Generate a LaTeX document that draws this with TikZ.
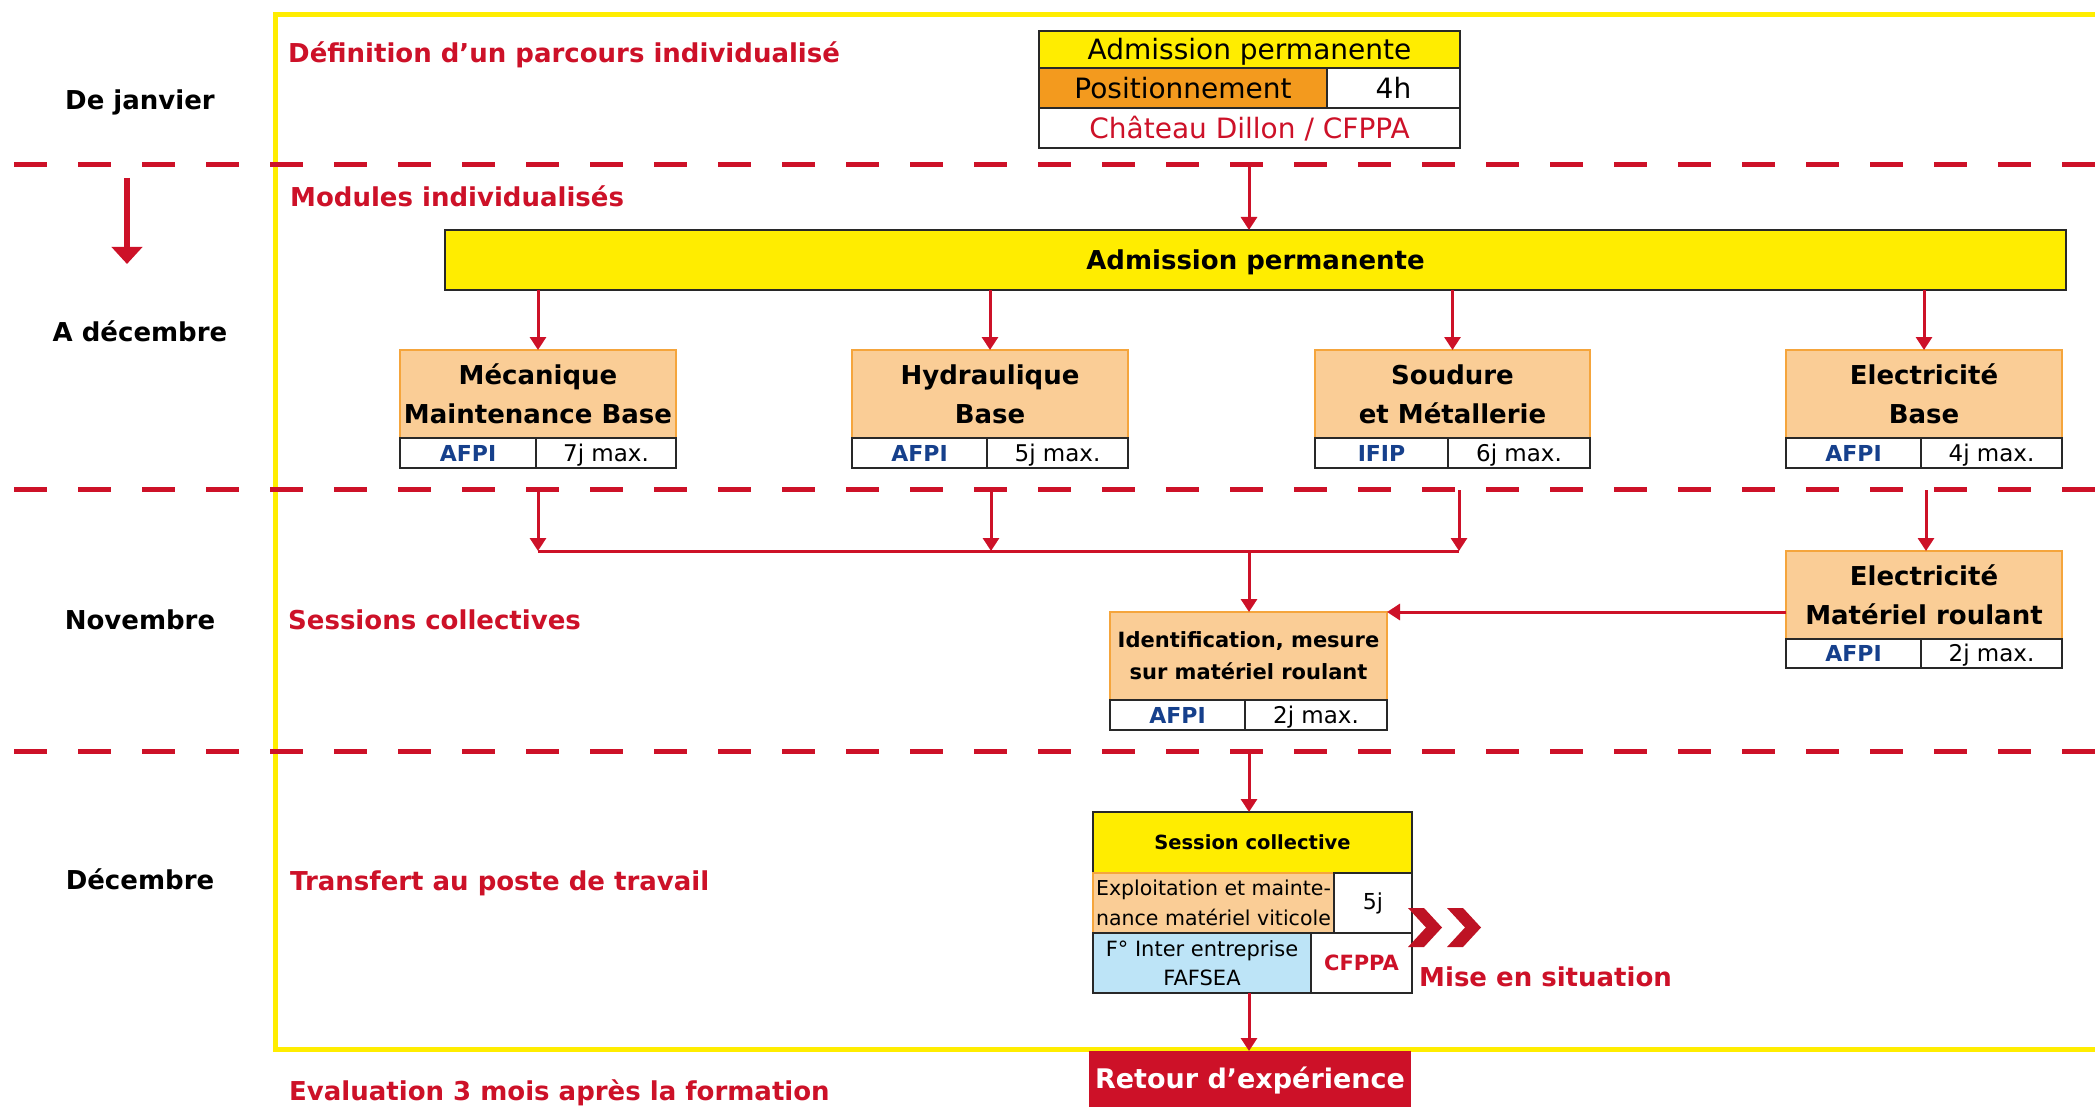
\documentclass[tikz,border=0pt]{standalone}
\usepackage{fontspec}
\setmainfont{DejaVu Sans}
\usetikzlibrary{arrows.meta}
\definecolor{myred}{RGB}{205,17,40}
\definecolor{myyellow}{RGB}{255,237,0}
\definecolor{myorange}{RGB}{243,154,30}
\definecolor{lightor}{RGB}{250,205,150}
\definecolor{orline}{RGB}{245,165,60}
\definecolor{lightblue}{RGB}{189,228,247}
\definecolor{myblue}{RGB}{22,64,140}
\definecolor{darkred}{RGB}{190,18,36}
\definecolor{boxline}{RGB}{40,40,40}
\begin{document}
\begin{tikzpicture}[x=1pt,y=-1pt,
  arr/.style={draw=myred, line width=3pt, -{Triangle[width=16pt,length=13pt]}},
  rect/.style={inner sep=0pt, outer sep=0pt, align=center},
  cellk/.style={rect, draw=boxline, line width=1.5pt},
  cello/.style={rect, draw=orline, line width=1.5pt, fill=lightor},
  lab/.style={font=\fontsize{26}{31}\selectfont\bfseries, text height=19pt, text depth=0pt, inner sep=0pt},
  ttl/.style={font=\fontsize{26}{31}\selectfont\bfseries, text=myred, anchor=west, inner sep=0pt, text height=19pt, text depth=0pt},
  modt/.style={font=\fontsize{26}{39}\selectfont\bfseries},
  orgz/.style={font=\fontsize{22}{26}\selectfont\bfseries, text=myblue, text height=16pt, text depth=0pt},
  dur/.style={font=\fontsize{23}{26}\selectfont, text height=16.5pt, text depth=0pt},
  dash line/.style={draw=myred, line width=5pt, dash pattern=on 33pt off 31pt}
]
\useasboundingbox (0,0) rectangle (2095,1107);
\fill[white] (0,0) rectangle (2095,1107);

% yellow frame
\draw[myyellow, line width=5pt] (2100,15) -- (275,15) -- (275,1049) -- (2100,1049);

% dashed separators
\draw[dash line] (14,165) -- (2095,165);
\draw[dash line] (14,489) -- (2095,489);
\draw[dash line] (14,751) -- (2095,751);

% left labels
\node[lab] (lj) at (140,100) {De janvier};
\node[lab] (ld) at (140,332) {A décembre};
\node[lab] (ln) at (140,620) {Novembre};
\node[lab] (ldc) at (140,880) {Décembre};
\coordinate (la1) at (127,178);
\coordinate (la2) at (127,264);
\draw[myred, line width=6pt, -{Triangle[width=30pt,length=17pt]}] (la1) -- (la2);

% section titles
\node[ttl] (t1) at (288,53) {Définition d’un parcours individualisé};
\node[ttl] (t2) at (290,197) {Modules individualisés};
\node[ttl] (t3) at (288,620) {Sessions collectives};
\node[ttl] (t4) at (290,881) {Transfert au poste de travail};
\node[ttl] (t5) at (289,1091) {Evaluation 3 mois après la formation};

% top box
\node[cellk, fill=myyellow, minimum width=421pt, minimum height=37pt, font=\fontsize{28}{32}\selectfont, text height=20.5pt, text depth=0pt] (tA) at (1249.5,49.5) {Admission permanente};
\node[cellk, fill=myorange, minimum width=288pt, minimum height=40pt, font=\fontsize{28}{32}\selectfont, text height=20.5pt, text depth=0pt] (tP) at (1183,88) {Positionnement};
\node[cellk, fill=white, minimum width=133pt, minimum height=40pt, font=\fontsize{28}{32}\selectfont, text height=20.5pt, text depth=0pt] (tH) at (1393.5,88) {4h};
\node[cellk, fill=white, minimum width=421pt, minimum height=40pt, font=\fontsize{28}{32}\selectfont, text=myred, text height=20.5pt, text depth=0pt] (tC) at (1249.5,128) {Château Dillon / CFPPA};

% big bar
\node[rect, draw=boxline, line width=2pt, fill=myyellow, minimum width=1621pt, minimum height=60pt, font=\fontsize{26}{31}\selectfont\bfseries, text height=19pt, text depth=0pt] (bA) at (1255.5,260) {Admission permanente};

% module boxes
\node[cello, minimum width=276pt, minimum height=88pt, modt] (m1) at (538,394) {Mécanique\\Maintenance Base};
\node[cellk, minimum width=136pt, minimum height=30pt, orgz] (m1a) at (468,453) {AFPI};
\node[cellk, minimum width=140pt, minimum height=30pt, dur] (m1b) at (606,453) {7j max.};

\node[cello, minimum width=276pt, minimum height=88pt, modt] (m2) at (990,394) {Hydraulique\\Base};
\node[cellk, minimum width=135pt, minimum height=30pt, orgz] (m2a) at (919.5,453) {AFPI};
\node[cellk, minimum width=141pt, minimum height=30pt, dur] (m2b) at (1057.5,453) {5j max.};

\node[cello, minimum width=275pt, minimum height=88pt, modt] (m3) at (1452.5,394) {Soudure\\et Métallerie};
\node[cellk, minimum width=133pt, minimum height=30pt, orgz] (m3a) at (1381.5,453) {IFIP};
\node[cellk, minimum width=142pt, minimum height=30pt, dur] (m3b) at (1519,453) {6j max.};

\node[cello, minimum width=276pt, minimum height=88pt, modt] (m4) at (1924,394) {Electricité\\Base};
\node[cellk, minimum width=135pt, minimum height=30pt, orgz] (m4a) at (1853.5,453) {AFPI};
\node[cellk, minimum width=141pt, minimum height=30pt, dur] (m4b) at (1991.5,453) {4j max.};

% electricite materiel roulant
\node[cello, minimum width=276pt, minimum height=88pt, modt] (mr) at (1924,595) {Electricité\\Matériel roulant};
\node[cellk, minimum width=135pt, minimum height=29pt, orgz] (mra) at (1853.5,653.5) {AFPI};
\node[cellk, minimum width=141pt, minimum height=29pt, dur] (mrb) at (1991.5,653.5) {2j max.};

% identification
\node[cello, minimum width=277pt, minimum height=88pt, font=\fontsize{21}{32}\selectfont\bfseries] (id) at (1248.5,656) {Identification, mesure\\sur matériel roulant};
\node[cellk, minimum width=135pt, minimum height=30pt, orgz] (ida) at (1177.5,715) {AFPI};
\node[cellk, minimum width=142pt, minimum height=30pt, dur] (idb) at (1316,715) {2j max.};

% session collective
\node[cellk, fill=myyellow, minimum width=319pt, minimum height=61pt, font=\fontsize{19.5}{24}\selectfont\bfseries] (sA) at (1252.5,842.5) {Session collective};
\node[cello, minimum width=241pt, minimum height=60pt, font=\fontsize{20.5}{30}\selectfont, align=left] (sE) at (1213.5,903) {Exploitation et mainte-\\nance matériel viticole};
\node[cellk, fill=white, minimum width=78pt, minimum height=60pt, font=\fontsize{22}{26}\selectfont] (s5) at (1373,903) {5j};
\node[cellk, fill=lightblue, minimum width=218pt, minimum height=60pt, font=\fontsize{21}{29}\selectfont] (sF) at (1202,963) {F° Inter entreprise\\FAFSEA};
\node[cellk, fill=white, minimum width=101pt, minimum height=60pt, font=\fontsize{21}{26}\selectfont\bfseries, text=myred] (sC) at (1361.5,963) {CFPPA};

% chevrons
\fill[darkred] (1408,908) -- (1424,908) -- (1442,927.5) -- (1424,947) -- (1408,947) -- (1426,927.5) -- cycle;
\fill[darkred] (1447,908) -- (1463,908) -- (1481,927.5) -- (1463,947) -- (1447,947) -- (1465,927.5) -- cycle;
\node[font=\fontsize{26}{31}\selectfont\bfseries, text=myred, anchor=west, inner sep=0pt, text height=19pt, text depth=0pt] (mis) at (1419,977) {Mise en situation};

% retour
\node[rect, fill=myred, minimum width=322pt, minimum height=56pt, text=white, font=\fontsize{27}{32}\selectfont\bfseries, text height=19.5pt, text depth=0pt] (ret) at (1250,1079) {Retour d’expérience};

% connectors
\coordinate (d1) at (1249,166);
\draw[arr] (d1) -- (d1 |- bA.north);
\draw[arr] (m1.north |- bA.south) -- (m1.north);
\draw[arr] (m2.north |- bA.south) -- (m2.north);
\draw[arr] (m3.north |- bA.south) -- (m3.north);
\draw[arr] (m4.north |- bA.south) -- (m4.north);

\coordinate (c1) at (538,490);
\coordinate (c2) at (991,490);
\coordinate (c3) at (1459,490);
\coordinate (c4) at (1926,490);
\coordinate (j) at (1249,551);
\draw[myred, line width=3pt] (c1 |- j) -- (c3 |- j);
\draw[arr] (c1) -- (c1 |- j);
\draw[arr] (c2) -- (c2 |- j);
\draw[arr] (c3) -- (c3 |- j);
\draw[arr] (j) -- (j |- id.north);
\draw[arr] (c4) -- (c4 |- mr.north);
\draw[arr] (mr.west |- id.north east) -- (id.north east);

\coordinate (d3) at (1249,752);
\draw[arr] (d3) -- (d3 |- sA.north);
\coordinate (sb) at (1249,993);
\draw[arr] (sb) -- (sb |- ret.north);
\end{tikzpicture}
\end{document}
